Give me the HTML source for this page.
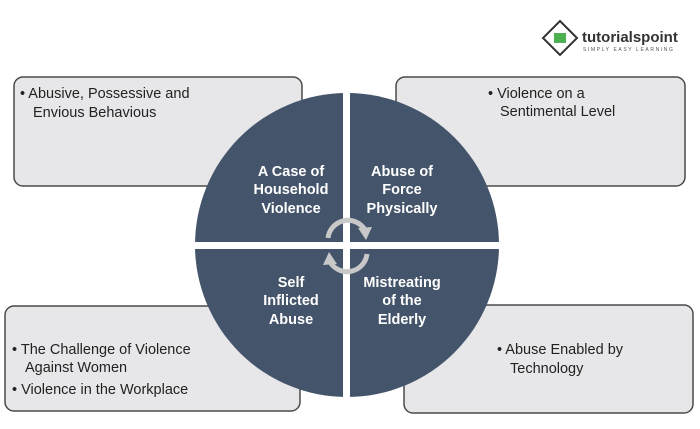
<!DOCTYPE html>
<html><head><style>
html,body{margin:0;padding:0;background:#fff;}
svg{display:block;font-family:"Liberation Sans",sans-serif;}
</style></head><body>
<svg width="700" height="429" viewBox="0 0 700 429">
<g fill="#e7e7e9" stroke="#4a4a4a" stroke-width="1.5">
<rect x="14" y="77" width="288" height="109" rx="9"/>
<rect x="396" y="77" width="289" height="109" rx="9"/>
<rect x="5" y="306" width="295" height="105" rx="9"/>
<rect x="404" y="305" width="289" height="108" rx="9"/>
</g>
<g font-size="14.5" fill="#222">
<text x="20" y="98">• Abusive, Possessive and</text>
<text x="33" y="117">Envious Behavious</text>
<text x="488" y="98">• Violence on a</text>
<text x="500" y="116">Sentimental Level</text>
<text x="12" y="354">• The Challenge of Violence</text>
<text x="25" y="372">Against Women</text>
<text x="12" y="394">• Violence in the Workplace</text>
<text x="497" y="354">• Abuse Enabled by</text>
<text x="510" y="373">Technology</text>
</g>
<circle cx="347" cy="245" r="152" fill="#44546a"/>
<rect x="343" y="90" width="7" height="310" fill="#fff"/>
<rect x="192" y="242" width="310" height="7" fill="#fff"/>
<g font-size="14.5" font-weight="bold" fill="#fff" text-anchor="middle">
<text x="291" y="176">A Case of</text>
<text x="291" y="194">Household</text>
<text x="291" y="213">Violence</text>
<text x="402" y="176">Abuse of</text>
<text x="402" y="194">Force</text>
<text x="402" y="213">Physically</text>
<text x="291" y="287">Self</text>
<text x="291" y="305">Inflicted</text>
<text x="291" y="324">Abuse</text>
<text x="402" y="287">Mistreating</text>
<text x="402" y="305">of the</text>
<text x="402" y="324">Elderly</text>
</g>
<g fill="none" stroke="#c8c8c8" stroke-width="5">
<path d="M328 238 A20 20 0 0 1 365 230"/>
<path d="M367 254 A20 20 0 0 1 330 262"/>
</g>
<polygon points="358,228 372,227 366,240" fill="#c8c8c8"/>
<polygon points="337,264 323,265 329,252" fill="#c8c8c8"/>
<g transform="translate(560,38)">
<polygon points="0,-17 17,0 0,17 -17,0" fill="#fff" stroke="#333" stroke-width="2"/>
<rect x="-6" y="-5" width="12" height="10" fill="#4caf50"/>
</g>
<text x="582" y="42" font-size="15" font-weight="bold" fill="#333">tutorialspoint</text>
<text x="583" y="51" font-size="5" fill="#555" letter-spacing="1.6">SIMPLY EASY LEARNING</text>
</svg>
</body></html>
